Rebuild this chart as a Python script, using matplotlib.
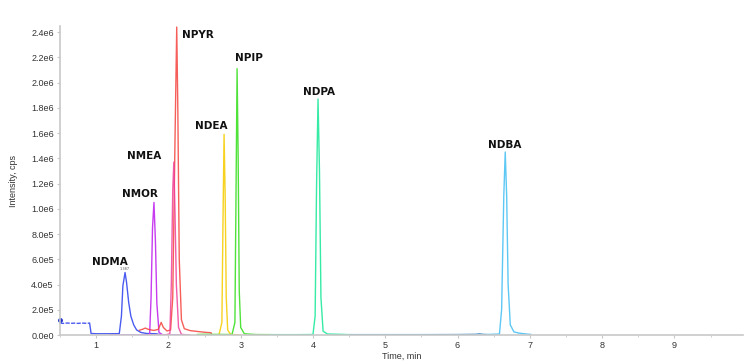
import matplotlib
matplotlib.use("Agg")
import matplotlib.pyplot as plt
from matplotlib.ticker import MultipleLocator, FuncFormatter

# ---- data ----
# NDMA (blue)
ndma_pre_t = [0.50, 0.55, 0.60, 0.65, 0.70, 0.75, 0.80, 0.85, 0.90, 0.91]
ndma_pre_i = [9.4e4, 9.2e4, 9.5e4, 9.3e4, 9.4e4, 9.2e4, 9.5e4, 9.3e4, 9.4e4, 9.3e4]
ndma_t = [0.91, 0.93, 1.00, 1.20, 1.32, 1.35, 1.37, 1.40, 1.42, 1.45, 1.48, 1.52, 1.56, 1.62, 1.70, 1.83, 1.90]
ndma_i = [9.3e4, 1.2e4, 1.0e4, 1.0e4, 1.1e4, 1.5e5, 3.9e5, 4.95e5, 4.2e5, 2.6e5, 1.5e5, 8.0e4, 4.0e4, 2.0e4, 1.2e4, 1.0e4, 0.0]
ndma_dot = (0.50, 1.19e5)

# NMOR (purple)
nmor_t = [1.20, 1.60, 1.74, 1.76, 1.78, 1.80, 1.82, 1.84, 1.87, 1.92, 2.20]
nmor_i = [0.0, 0.0, 2.0e3, 3.0e5, 8.5e5, 1.05e6, 7.5e5, 2.5e5, 2.0e4, 2.0e3, 0.0]

# NMEA (pink)
nmea_t = [1.70, 1.95, 2.02, 2.04, 2.06, 2.075, 2.09, 2.11, 2.14, 2.18, 2.30]
nmea_i = [0.0, 0.0, 1.0e4, 4.0e5, 1.15e6, 1.37e6, 1.0e6, 4.0e5, 6.0e4, 5.0e3, 0.0]

# NPYR (red)
npyr_t = [1.60, 1.64, 1.68, 1.72, 1.80, 1.86, 1.90, 1.93, 1.98, 2.03, 2.06, 2.09, 2.115,
          2.13, 2.15, 2.18, 2.22, 2.30, 2.40, 2.50, 2.59, 2.60]
npyr_i = [3.8e4, 4.5e4, 5.5e4, 4.5e4, 3.6e4, 4.5e4, 1.0e5, 6.0e4, 3.2e4, 4.0e4, 3.0e5, 1.5e6, 2.44e6,
          1.8e6, 6.0e5, 1.2e5, 5.0e4, 3.5e4, 2.8e4, 2.2e4, 1.8e4, 0.0]

# NDEA (yellow)
ndea_t = [2.40, 2.70, 2.74, 2.755, 2.77, 2.785, 2.80, 2.82, 2.86, 3.00]
ndea_i = [0.0, 2.0e3, 1.0e5, 9.0e5, 1.59e6, 1.1e6, 3.0e5, 4.0e4, 5.0e3, 0.0]

# NPIP (green)
npip_t = [2.40, 2.50, 2.60, 2.88, 2.92, 2.935, 2.95, 2.965, 2.98, 3.00, 3.05, 3.20, 3.41]
npip_i = [4.0e3, 6.0e3, 5.0e3, 4.0e3, 1.0e5, 1.1e6, 2.11e6, 1.4e6, 3.5e5, 6.0e4, 1.0e4, 4.0e3, 3.0e3]

# NDPA (sea green)
ndpa_t = [3.41, 3.80, 4.00, 4.03, 4.05, 4.07, 4.09, 4.11, 4.14, 4.20, 4.52]
ndpa_i = [3.0e3, 3.0e3, 4.0e3, 1.5e5, 1.2e6, 1.87e6, 1.3e6, 3.0e5, 3.0e4, 8.0e3, 3.0e3]

# NDBA (sky blue)
ndba_base_t = [4.52, 5.00, 5.50, 6.00, 6.25, 6.30, 6.35, 6.40]
ndba_base_i = [3.0e3, 3.0e3, 3.0e3, 4.0e3, 6.0e3, 1.0e4, 6.0e3, 4.0e3]
ndba_t = [6.40, 6.58, 6.61, 6.64, 6.66, 6.68, 6.70, 6.73, 6.78, 6.85, 6.95, 7.01]
ndba_i = [4.0e3, 8.0e3, 2.0e5, 1.1e6, 1.45e6, 1.1e6, 4.0e5, 8.0e4, 2.5e4, 1.5e4, 8.0e3, 5.0e3]

names = ["NDMA", "NMOR", "NMEA", "NPYR", "NDEA", "NPIP", "NDPA", "NDBA"]
label_t = [1.19, 1.61, 1.66, 2.41, 2.59, 3.11, 4.08, 6.65]
label_i = [5.78e5, 1.117e6, 1.418e6, 2.376e6, 1.655e6, 2.194e6, 1.925e6, 1.505e6]

colors = {
    "NDMA": "#4a5cf0",
    "NMOR": "#c83cf0",
    "NMEA": "#f0409a",
    "NPYR": "#f5433c",
    "NDEA": "#f7d21e",
    "NPIP": "#4fe33a",
    "NDPA": "#36eba6",
    "NDBA": "#5ec8f5",
}

# ---- figure ----
fig = plt.figure(figsize=(7.5, 3.63), dpi=100)
ax = fig.add_axes([0.08, 0.0771, 0.9107, 0.851])

lw = 1.0
ax.plot(ndma_pre_t, ndma_pre_i, color=colors["NDMA"], lw=lw, ls=(0, (3, 1)))
ax.plot(ndma_t, ndma_i, color=colors["NDMA"], lw=lw)
ax.plot([ndma_dot[0]], [ndma_dot[1]], "o", color="#2233cc", ms=2.5, clip_on=False)
ax.plot(nmor_t, nmor_i, color=colors["NMOR"], lw=lw)
ax.plot(npyr_t, npyr_i, color=colors["NPYR"], lw=lw, alpha=0.85)
ax.plot(nmea_t, nmea_i, color=colors["NMEA"], lw=lw, alpha=0.85)
ax.plot(ndea_t, ndea_i, color=colors["NDEA"], lw=lw)
ax.plot(npip_t, npip_i, color=colors["NPIP"], lw=lw)
ax.plot(ndpa_t, ndpa_i, color=colors["NDPA"], lw=lw)
ax.plot(ndba_base_t, ndba_base_i, color="#5a9fd0", lw=lw)
ax.plot(ndba_t, ndba_i, color=colors["NDBA"], lw=lw)

for n, t, i in zip(names, label_t, label_i):
    ax.text(t, i, n, fontsize=7.5, fontweight="bold", family="DejaVu Sans",
            ha="center", va="center", color="#111111")

ax.text(1.40, 5.05e5, "1.387", fontsize=2.5, ha="center", va="bottom", color="#555555")

ax.set_xlim(0.5, 9.95)
ax.set_ylim(0, 2.4475e6)
ax.xaxis.set_major_locator(MultipleLocator(1))
ax.xaxis.set_minor_locator(MultipleLocator(0.5))
ax.yaxis.set_major_locator(MultipleLocator(2e5))

def yfmt(v, pos):
    if v == 0:
        return "0.0e0"
    s = "%.1e" % v
    m, e = s.split("e")
    return "%se%d" % (m, int(e))

ax.yaxis.set_major_formatter(FuncFormatter(yfmt))
ax.xaxis.set_major_formatter(FuncFormatter(lambda v, p: "%d" % v))

for s in ["top", "right"]:
    ax.spines[s].set_visible(False)
for s in ["left", "bottom"]:
    ax.spines[s].set_color("#c8c8c8")
    ax.spines[s].set_linewidth(1.2)

ax.tick_params(axis="both", which="major", labelsize=6.5, colors="#c8c8c8",
               labelcolor="#333333", length=2.5, width=0.8, pad=2)
ax.tick_params(axis="x", which="minor", length=1.5, colors="#c8c8c8")
for lab in ax.get_xticklabels() + ax.get_yticklabels():
    lab.set_family("Liberation Sans")

ax.set_xlabel("Time, min", fontsize=6.5, color="#333333", labelpad=1, family="Liberation Sans")
ax.set_ylabel("Intensity, cps", fontsize=6.5, color="#333333", labelpad=9, family="Liberation Sans")

fig.savefig("out.png", dpi=100)
